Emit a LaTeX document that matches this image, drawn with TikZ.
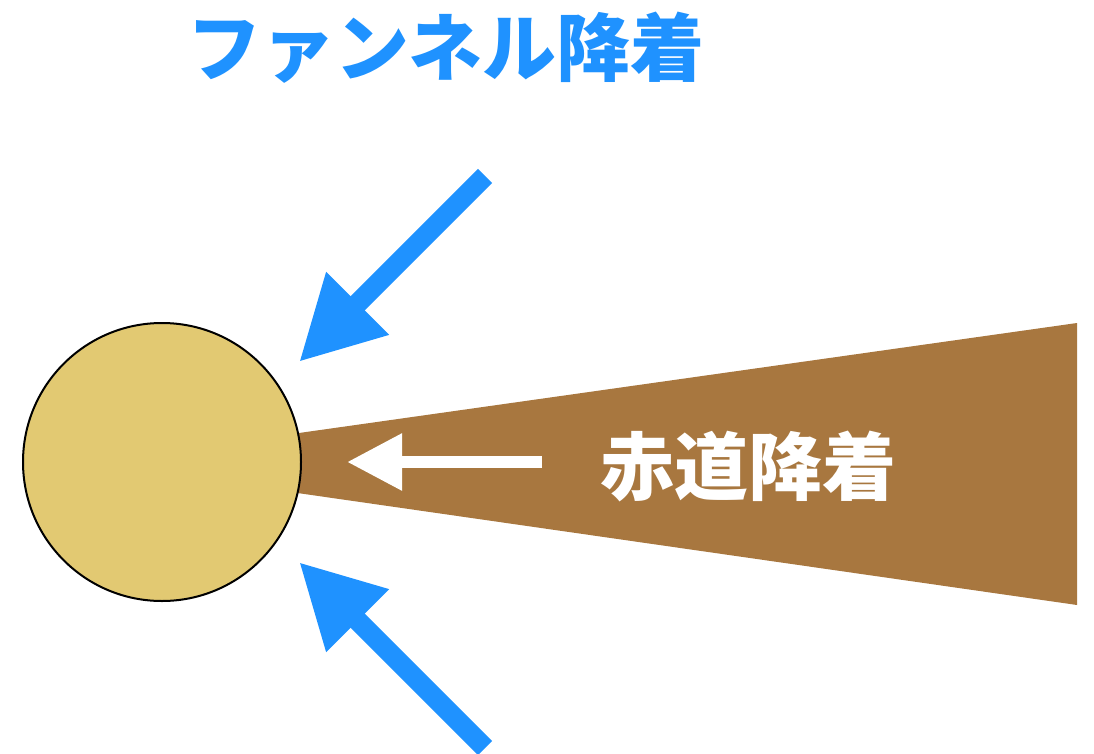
\documentclass[tikz,border=0pt]{standalone}
\usepackage{fontspec}
\newfontfamily\jp{Noto Sans CJK JP}
\usepackage{tikz}
\usetikzlibrary{ arrows.meta, % For the big triangular arrow heads
                 positioning,
               }
\definecolor{funnelblue}{HTML}{1F92FF}
\definecolor{diskbrown}{HTML}{A8773F}
\definecolor{starfill}{HTML}{E2C972}
\tikzstyle{star} = [circle, minimum size=278pt, inner sep=0pt, draw=black, line width=2pt, fill=starfill]
\tikzstyle{funnel} = [draw=funnelblue, line width=20pt, -{Triangle[length=83pt, width=83pt]}]
\tikzstyle{inflow} = [draw=white, line width=12pt, -{Triangle[length=55pt, width=54pt]}]
\tikzstyle{label} = [font=\jp\bfseries\fontsize{74}{80}\selectfont, inner sep=0pt]

\begin{document}
\begin{tikzpicture}[x=1pt, y=-1pt]
  \useasboundingbox (0, 0) rectangle (1094, 754);

  % the disk wedge, tucked behind the star
  \coordinate (d1) at (200, 447);
  \coordinate (d2) at (1077, 323);
  \coordinate (d3) at (1077, 605);
  \coordinate (d4) at (200, 479);
  \fill [diskbrown] (d1) -- (d2) -- (d3) -- (d4) -- cycle;

  \node (s) [star] at (162, 462) {};

  % equatorial inflow
  \coordinate (e0) at (542, 462);
  \coordinate (e1) at (347, 462);
  \draw [inflow] (e0) -- (e1);
  \node (eq) [label, text=white] at (748, 466) {赤道降着};

  % funnel inflow from above and below
  \coordinate (f1_0) at (485, 176);
  \coordinate (f1_1) at (299, 362);
  \coordinate (f2_0) at (485, 748);
  \coordinate (f2_1) at (299, 562);
  \draw [funnel] (f1_0) -- (f1_1);
  \draw [funnel] (f2_0) -- (f2_1);
  \node (fn) [label, text=funnelblue] at (446, 48) {ファンネル降着};

\end{tikzpicture}
\end{document}
